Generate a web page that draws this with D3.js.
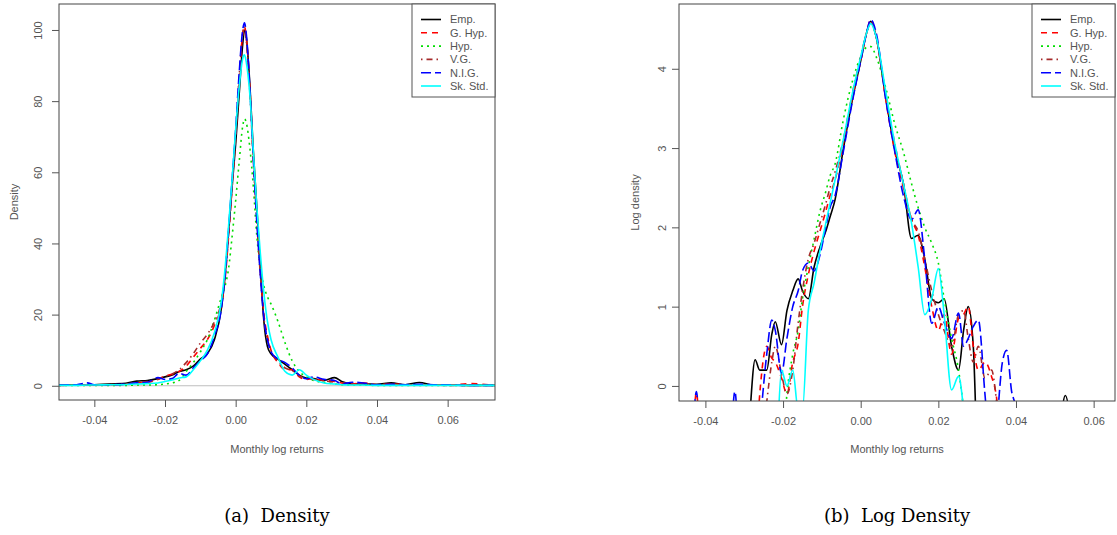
<!DOCTYPE html>
<html><head><meta charset="utf-8">
<script src="https://cdn.jsdelivr.net/npm/d3@7/dist/d3.min.js"></script>
<style>
html,body{margin:0;padding:0;background:#fff;}
svg{display:block;}
</style></head>
<body>
<svg id="chart" width="1117" height="535"></svg>
<script>
// ---------- DATA ----------
const seriesNames = ["Emp.", "G. Hyp.", "Hyp.", "V.G.", "N.I.G.", "Sk. Std."];
const xTicks = [-0.04, -0.02, 0.00, 0.02, 0.04, 0.06];
const yTicksDensity = [0, 20, 40, 60, 80, 100];
const yTicksLog = [0, 1, 2, 3, 4];
const captions = ["(a)  Density", "(b)  Log Density"];

// Panel (a): density
const xDensity = [-0.05,-0.045,-0.042,-0.04,-0.036,-0.032,-0.028,-0.025,-0.022,-0.02,-0.018,-0.016,-0.014,-0.012,-0.01,-0.008,-0.006,-0.004,-0.003,-0.002,-0.001,0,0.001,0.002,0.0025,0.003,0.004,0.005,0.006,0.007,0.008,0.009,0.01,0.012,0.014,0.016,0.018,0.02,0.022,0.025,0.028,0.03,0.033,0.036,0.04,0.044,0.048,0.052,0.056,0.06,0.066,0.0735];
const empDensity  = [0.2,0.3,0.3,0.3,0.5,0.6,1.3,1.5,2.0,2.5,3.0,4.0,4.5,5.5,7.5,9.0,13,22,31,43,56,68,82,96,100,98,85,66,50,33,18,11,9,7.5,6,4.5,3.0,2.2,2.0,1.5,2.3,1.2,0.5,0.5,0.4,0.8,0.3,0.9,0.2,0.2,0.1,0.1];
const ghypDensity = [0.1,0.2,0.3,0.2,0.3,0.3,0.8,1.0,1.8,2.8,3.2,4.0,5.5,8,10.5,13,17,23,30,42,56,70,86,99,101,98,84,64,47,32,20,14,10,6.5,4.5,4.5,2.5,1.8,2.0,1.5,1.2,0.8,0.5,0.8,0.3,0.5,0.3,0.2,0.2,0.1,0.6,0.1];
const hypDensity  = [0.1,0.1,0.1,0.1,0.1,0.1,0.2,0.2,0.3,0.5,0.8,1.5,4,6.5,9.5,13,18.5,25,28,33,42,52,63,73,75,74,67,56,42,33,28,25,23,18,12,7,4,2.5,1.5,1.0,0.5,0.3,0.2,0.2,0.1,0.1,0.1,0.1,0.1,0.1,0.1,0.1];
const vgDensity   = [0.1,0.2,0.3,0.2,0.3,0.4,0.9,1.2,1.8,2.6,3.3,4.5,6.5,9,12,14.5,18,24,31,43,57,71,87,99,101,97,83,63,46,31,19,13,10,6.8,5,4.2,2.8,2.0,1.8,1.4,1.0,0.8,0.6,0.6,0.3,0.4,0.3,0.2,0.2,0.1,0.3,0.1];
const nigDensity  = [0.2,0.3,0.8,0.3,0.3,0.4,0.8,1.0,2.3,1.8,2.0,3.5,3.0,5,7,9,14,22,31,44,58,72,88,100,102,99,84,64,46,31,19,13,9.5,7.5,6.5,5,3,2,2.5,1.8,1.5,0.5,1.0,0.8,0.3,0.4,0.3,0.4,0.3,0.2,0.1,0.1];
const skDensity   = [0.1,0.1,0.2,0.2,0.3,0.3,0.5,0.6,0.8,1.2,1.6,2.2,2.5,4.5,7,10,15,24,33,45,58,72,84,92,93,91,82,66,50,37,26,18,13,8,4,3.0,4.5,3.0,1.8,0.8,0.5,0.3,0.2,0.2,0.1,0.1,0.1,0.1,0.1,0.1,0.1,0.1];

// Panel (b): log density
const xLog = [-0.0435,-0.0423,-0.041,-0.034,-0.0324,-0.031,-0.029,-0.0272,-0.026,-0.0242,-0.0229,-0.022,-0.0204,-0.019,-0.0175,-0.0161,-0.015,-0.0135,-0.012,-0.0105,-0.009,-0.0079,-0.0066,-0.0045,-0.0021,0,0.0015,0.0026,0.004,0.0065,0.0088,0.011,0.0131,0.0148,0.0165,0.0183,0.02,0.0215,0.0234,0.0252,0.0265,0.0277,0.029,0.0303,0.032,0.0337,0.035,0.0365,0.0376,0.039,0.05,0.0527,0.055];
const empLog  = [-1,-1,-1,-1,-1,-1,-0.6,0.33,0.2,0.2,0.65,0.81,0.52,0.95,1.2,1.35,1.2,1.1,1.5,1.75,1.95,2.13,2.35,2.98,3.62,4.1,4.45,4.6,4.4,3.62,2.98,2.55,1.86,1.9,1.6,1.1,1.05,1.1,0.5,0.2,0.7,1.0,0.5,-1,-1,-1,-1,-1,-1,-1,-1,-0.12,-1];
const ghypLog = [-1,-0.08,-1,-1,-1,-1,-1,-1,-0.1,0.5,0.35,0.3,0.1,-0.1,0.3,0.54,1.0,1.4,1.7,1.95,2.2,2.4,2.6,3.05,3.65,4.1,4.45,4.62,4.4,3.6,2.95,2.5,2.1,1.9,1.5,1.0,0.7,0.9,0.4,0.85,0.9,1.0,0.5,0.2,0.3,0.12,-0.15,-1,-1,-1,-1,-1,-1];
const hypLog  = [-1,-1,-1,-1,-1,-1,-1,-1,-1,-1,-1,-1,-1,-0.1,0.4,0.7,1.1,1.5,1.85,2.2,2.45,2.65,2.8,3.35,3.85,4.15,4.27,4.28,4.15,3.75,3.3,2.95,2.55,2.25,2.0,1.8,1.55,1.1,0.6,0.2,-0.3,-1,-1,-1,-1,-1,-1,-1,-1,-1,-1,-1,-1];
const vgLog   = [-1,-1,-1,-1,-1,-1,-1,-1,-1,-0.2,0.3,0.5,0.15,-0.1,0.2,0.8,1.2,1.6,1.8,2.05,2.3,2.5,2.7,3.1,3.7,4.15,4.45,4.58,4.4,3.65,3.05,2.55,2.1,1.95,1.6,1.2,0.9,0.7,0.5,0.9,0.95,0.6,0.3,0.5,0.1,0.2,-0.2,-1,-1,-1,-1,-1,-1];
const nigLog  = [-1,-0.07,-1,-1,-0.07,-1,-1,-1,-0.5,0.4,0.83,0.7,0.16,0.6,1.0,1.2,1.45,1.55,1.45,1.65,2.0,2.25,2.4,2.95,3.6,4.1,4.45,4.62,4.45,3.6,2.95,2.4,2.1,2.22,1.6,0.79,1.0,0.8,0.6,0.92,0.5,0.6,0.75,0.83,-0.1,-1,-0.5,0.3,0.45,-0.1,-1,-1,-1];
const skLog   = [-1,-1,-1,-1,-1,-1,-1,-1,-1,-1,-1,-1,0.2,0.0,0.2,-0.3,-0.3,0.95,1.3,1.7,2.05,2.3,2.6,3.1,3.7,4.15,4.45,4.57,4.4,3.7,3.05,2.55,2.05,1.5,0.9,1.1,1.48,0.9,-0.05,0.12,-0.3,-1,-1,-1,-1,-1,-1,-1,-1,-1,-1,-1,-1];

// ---------- STYLE ----------
const colors = ["#000000", "#ff0000", "#00dd00", "#a52a2a", "#0000ff", "#00ffff"];
const dashes = ["none", "6,5", "2,4", "1.5,4,6,4", "10,4", "none"];
const textCol = "#555";
const font = "'Liberation Sans', Arial, sans-serif";

const svg = d3.select("#chart");

function panel(cfg) {
  const x = d3.scaleLinear().domain(cfg.xDomain).range([cfg.left, cfg.right]);
  const y = d3.scaleLinear().domain(cfg.yDomain).range([cfg.bottom, cfg.top]);
  const clipId = "clip" + cfg.id;
  svg.append("clipPath").attr("id", clipId).append("rect")
    .attr("x", cfg.left).attr("y", cfg.top)
    .attr("width", cfg.right - cfg.left).attr("height", cfg.bottom - cfg.top);

  const g = svg.append("g");
  const plot = g.append("g").attr("clip-path", `url(#${clipId})`);

  if (cfg.zeroLine) {
    plot.append("line")
      .attr("x1", cfg.left).attr("x2", cfg.right)
      .attr("y1", y(0)).attr("y2", y(0))
      .attr("stroke", "#bebebe").attr("stroke-width", 1.2);
  }

  const line = d3.line()
    .x((d, i) => x(cfg.xs[i]))
    .y(d => y(d))
    .curve(d3.curveMonotoneX);

  cfg.series.forEach((s, k) => {
    plot.append("path")
      .attr("d", line(s))
      .attr("fill", "none")
      .attr("stroke", colors[k])
      .attr("stroke-width", 1.6)
      .attr("stroke-dasharray", dashes[k])
      .attr("stroke-linejoin", "round");
  });

  // box
  g.append("rect")
    .attr("x", cfg.left).attr("y", cfg.top)
    .attr("width", cfg.right - cfg.left).attr("height", cfg.bottom - cfg.top)
    .attr("fill", "none").attr("stroke", "#444").attr("stroke-width", 1);

  // x axis
  const xAx = g.append("g").attr("transform", `translate(0,${cfg.bottom})`)
    .call(d3.axisBottom(x).tickValues(xTicks).tickSize(7).tickFormat(d3.format(".2f")).tickPadding(9));
  xAx.select(".domain").remove();
  xAx.selectAll("line").attr("stroke", "#555");
  xAx.selectAll("text").attr("fill", textCol).style("font-family", font).style("font-size", "11px")
    .text(d => d3.format(".2f")(d).replace("−", "-"));

  // y axis
  const yAx = g.append("g").attr("transform", `translate(${cfg.left},0)`)
    .call(d3.axisLeft(y).tickValues(cfg.yTicks).tickSize(7).tickFormat(d3.format("d")));
  yAx.select(".domain").remove();
  yAx.selectAll("line").attr("stroke", "#555");
  yAx.selectAll("text").remove();
  yAx.selectAll(".tick").append("text")
    .attr("transform", `translate(${cfg.yLabelX - cfg.left},0) rotate(-90)`)
    .attr("text-anchor", "middle").attr("dy", "0.35em")
    .attr("fill", textCol).style("font-family", font).style("font-size", "11px")
    .text(d => d);

  // axis titles
  g.append("text")
    .attr("x", (cfg.left + cfg.right) / 2).attr("y", 453)
    .attr("text-anchor", "middle").attr("fill", textCol)
    .style("font-family", font).style("font-size", "11px")
    .text("Monthly log returns");
  g.append("text")
    .attr("transform", `translate(${cfg.titleX},${(cfg.top + cfg.bottom) / 2}) rotate(-90)`)
    .attr("text-anchor", "middle").attr("dy", "0.35em").attr("fill", textCol)
    .style("font-family", font).style("font-size", "11px")
    .text(cfg.yTitle);

  // legend
  const lg = g.append("g");
  lg.append("rect")
    .attr("x", cfg.legendX).attr("y", cfg.top)
    .attr("width", cfg.right - cfg.legendX).attr("height", 93)
    .attr("fill", "#fff").attr("stroke", "#555").attr("stroke-width", 1);
  seriesNames.forEach((n, k) => {
    const yy = cfg.top + 15.5 + k * 13.3;
    lg.append("line")
      .attr("x1", cfg.legendX + 9).attr("x2", cfg.legendX + 29)
      .attr("y1", yy).attr("y2", yy)
      .attr("stroke", colors[k]).attr("stroke-width", 1.6)
      .attr("stroke-dasharray", dashes[k]);
    lg.append("text")
      .attr("x", cfg.legendX + 38).attr("y", yy).attr("dy", "0.35em")
      .attr("fill", textCol).style("font-family", font).style("font-size", "11px")
      .text(n);
  });

  // caption
  svg.append("text")
    .attr("x", (cfg.left + cfg.right) / 2).attr("y", 522)
    .attr("text-anchor", "middle").attr("fill", "#000")
    .style("font-family", "'DejaVu Serif', 'Liberation Serif', serif").style("font-size", "18px")
    .attr("xml:space", "preserve")
    .text(cfg.caption);
}

panel({
  id: "a", left: 59, right: 495, top: 4, bottom: 400,
  xDomain: [-0.05, 0.0734], yDomain: [-4.0, 107.3],
  xs: xDensity,
  series: [empDensity, ghypDensity, hypDensity, vgDensity, nigDensity, skDensity],
  yTicks: yTicksDensity, yLabelX: 38, titleX: 14, yTitle: "Density",
  legendX: 412, zeroLine: true, caption: captions[0]
});

panel({
  id: "b", left: 679, right: 1115, top: 4, bottom: 401,
  xDomain: [-0.0468, 0.0655], yDomain: [-0.19, 4.817],
  xs: xLog,
  series: [empLog, ghypLog, hypLog, vgLog, nigLog, skLog],
  yTicks: yTicksLog, yLabelX: 662, titleX: 635, yTitle: "Log density",
  legendX: 1032, zeroLine: false, caption: captions[1]
});
</script>
</body></html>
